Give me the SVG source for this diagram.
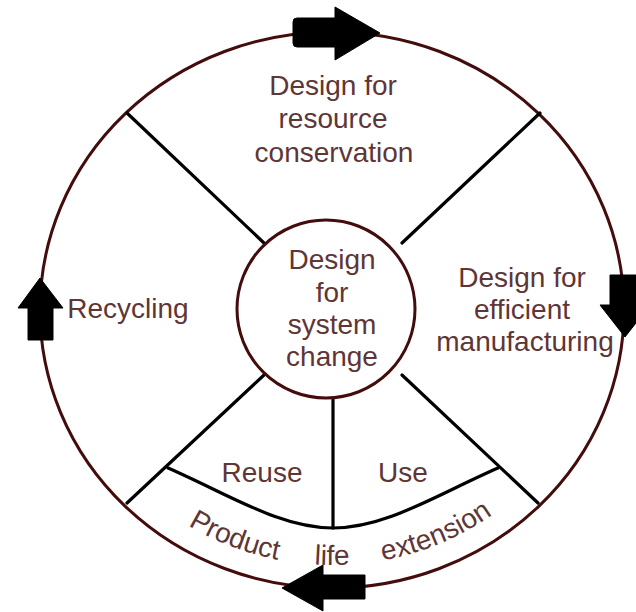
<svg xmlns="http://www.w3.org/2000/svg" width="636" height="612" viewBox="0 0 636 612">
<style>
.ring{fill:none;stroke:#440c0c;stroke-width:3}
.hubc{fill:#ffffff;stroke:#440c0c;stroke-width:3}
.spoke{fill:none;stroke:#000000;stroke-width:3.2;stroke-linecap:round}
.lbl{font-family:"Liberation Sans",Arial,sans-serif;font-size:28px;fill:#5e3636;text-anchor:middle}
.arr{fill:#000000;stroke:#000000;stroke-width:1;stroke-linejoin:round}
</style>
<defs>
<path id="arcText" d="M63,310 A269,255 0 0 0 601,310"/>
</defs>
<rect width="636" height="612" fill="#ffffff"/>
<g id="ring">
<ellipse class="ring" cx="332" cy="310" rx="292" ry="278"/>
</g>
<g id="connectors">
<line class="spoke" x1="127" y1="113" x2="264" y2="243"/>
<line class="spoke" x1="540" y1="113" x2="402" y2="243"/>
<line class="spoke" x1="127" y1="503" x2="264" y2="375"/>
<line class="spoke" x1="538" y1="503" x2="402" y2="375"/>
<line class="spoke" x1="333" y1="398" x2="333" y2="528"/>
<path class="spoke" d="M168,468 C230,495 280,528 333,528 C386,528 436,495 498,468"/>
</g>
<g id="hub">
<circle class="hubc" cx="326" cy="309" r="89"/>
<text class="lbl" x="332" y="269">Design</text>
<text class="lbl" x="332" y="302">for</text>
<text class="lbl" x="332" y="334">system</text>
<text class="lbl" x="332" y="366">change</text>
</g>
<g id="seg-resource">
<text class="lbl" x="333" y="95">Design for</text>
<text class="lbl" x="333" y="128">resource</text>
<text class="lbl" x="334" y="162">conservation</text>
</g>
<g id="seg-manufacturing">
<text class="lbl" x="522" y="287">Design for</text>
<text class="lbl" x="522" y="319">efficient</text>
<text class="lbl" x="525" y="351">manufacturing</text>
</g>
<g id="seg-recycling">
<text class="lbl" x="128" y="318">Recycling</text>
</g>
<g id="seg-reuse">
<text class="lbl" x="262" y="482">Reuse</text>
</g>
<g id="seg-use">
<text class="lbl" x="403" y="482">Use</text>
</g>
<g id="seg-extension">
<text class="lbl"><textPath href="#arcText" startOffset="37.5%">Product</textPath></text>
<text class="lbl"><textPath href="#arcText" startOffset="50%">life</textPath></text>
<text class="lbl"><textPath href="#arcText" startOffset="63.5%">extension</textPath></text>
</g>
<g id="arrows">
<path class="arr" d="M297,18 H335 V7 L380,33 L335,60 V47 H297 Q293,47 293,43 V22 Q293,18 297,18 Z"/>
<path class="arr" d="M610,275 H640 V305 H650 L625,337 L600,305 H610 Z"/>
<path class="arr" d="M40,278 L63,308 H53 V340 H28 V308 H18 Z"/>
<path class="arr" d="M282,588 L323,565 V575 H365 V599 H323 V611 Z"/>
</g>
</svg>
